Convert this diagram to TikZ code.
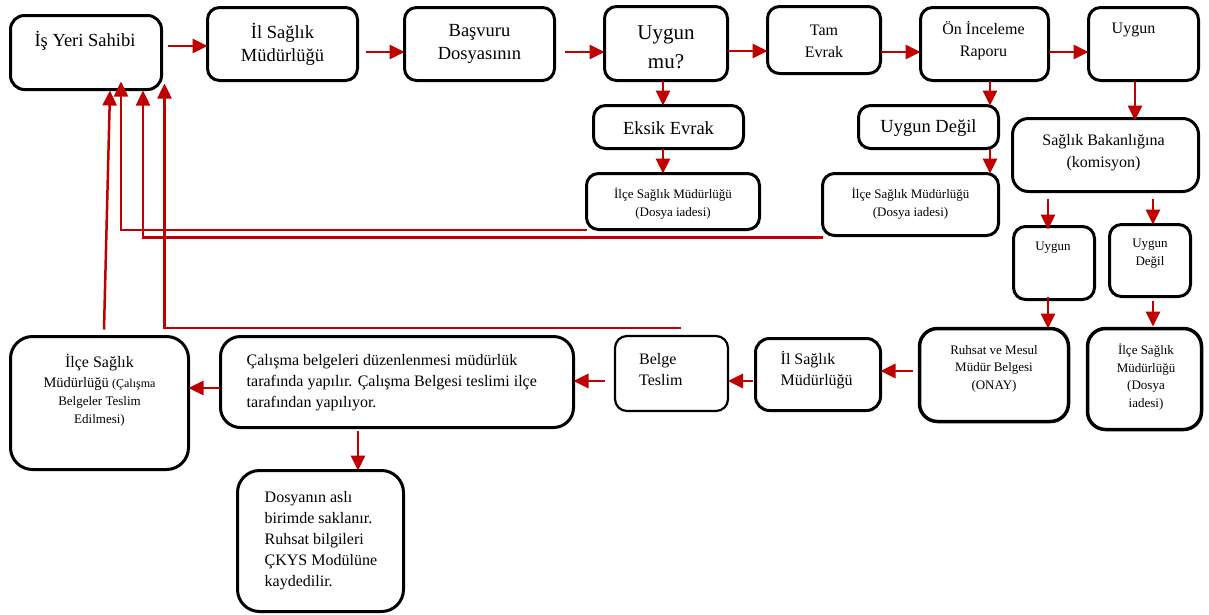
\documentclass[tikz,border=0pt]{standalone}
\usepackage{fontspec}
\setmainfont{Liberation Serif}
\usetikzlibrary{arrows.meta}
\definecolor{flowred}{RGB}{192,0,0}
\begin{document}
\begin{tikzpicture}[x=1pt,y=-1pt,
  box/.style={draw=black, line width=3pt, rounded corners=12pt, inner sep=0pt, outer sep=0pt},
  bigbox/.style={box, rounded corners=22pt},
  lbl/.style={inner sep=0pt, align=center},
  fbig/.style={font=\fontsize{18.5}{23}\selectfont},
  fhuge/.style={font=\fontsize{21}{29}\selectfont},
  fmid/.style={font=\fontsize{16}{22}\selectfont},
  fbody/.style={font=\fontsize{16}{21}\selectfont},
  fsmall/.style={font=\fontsize{13}{17.5}\selectfont},
  flow/.style={draw=flowred, line width=2.8pt, -{Triangle[length=15pt,width=14pt]}},
  back/.style={draw=flowred, line width=2.5pt, -{Triangle[length=15pt,width=14pt]}},
]
\useasboundingbox (0,0) rectangle (1209,614);

% ---- boxes ----
\node[box, rounded corners=14pt, minimum width=151pt, minimum height=74pt] (isy) at (86,52.5) {};
\node[box, minimum width=150pt, minimum height=73pt] (il1) at (282.5,44) {};
\node[box, minimum width=150pt, minimum height=73pt] (bas) at (479.5,44) {};
\node[box, minimum width=123pt, minimum height=74pt] (uyg) at (666,43.5) {};
\node[box, minimum width=113pt, minimum height=67pt] (tam) at (824,40) {};
\node[box, minimum width=128pt, minimum height=73pt] (on) at (984.5,44) {};
\node[box, minimum width=110pt, minimum height=73pt] (uyg2) at (1143.5,44) {};
\node[box, minimum width=150pt, minimum height=43pt] (eksik) at (668.5,127) {};
\node[box, minimum width=140pt, minimum height=43pt] (udeg) at (928.5,127) {};
\node[box, minimum width=173pt, minimum height=56pt] (ilce1) at (673,201.5) {};
\node[box, minimum width=176pt, minimum height=62pt] (ilce2) at (910.5,204.5) {};
\node[box, rounded corners=16pt, minimum width=186pt, minimum height=73pt] (bak) at (1105.5,155) {};
\node[box, minimum width=81pt, minimum height=73pt] (uygA) at (1054,263) {};
\node[box, minimum width=81pt, minimum height=72pt] (uygB) at (1150,260.5) {};
\node[box, rounded corners=18pt, line width=3.5pt, minimum width=149pt, minimum height=93pt] (ruhsat) at (994,375) {};
\node[box, rounded corners=18pt, line width=3.5pt, minimum width=114pt, minimum height=101pt] (ilce3) at (1144.5,379) {};
\node[box, rounded corners=14pt, minimum width=125pt, minimum height=72pt] (il2) at (818,374.5) {};
\node[box, line width=2.2pt, minimum width=113pt, minimum height=75pt] (belge) at (671.5,373.5) {};
\node[box, rounded corners=20pt, minimum width=353pt, minimum height=91pt] (calis) at (397,382) {};
\node[bigbox, minimum width=178pt, minimum height=133pt] (ilce4) at (99.5,403) {};
\node[bigbox, minimum width=166pt, minimum height=141pt] (dos) at (320.5,541) {};

% ---- texts ----
\node[lbl, fbig] (isy-t) at ([shift={(-1,-11.5)}]isy.center) {İş Yeri Sahibi};
\node[lbl, fbig] (il1-t) at (il1.center) {İl Sağlık\\Müdürlüğü};
\node[lbl, fbig] (bas-t) at (bas.center) {Başvuru\\Dosyasının};
\node[lbl, fhuge] (uyg-t) at ([shift={(0,4)}]uyg.center) {Uygun\\mu?};
\node[lbl, fmid] (tam-t) at ([shift={(0,1)}]tam.center) {Tam\\Evrak};
\node[lbl, fmid] (on-t) at ([shift={(-1,-3)}]on.center) {Ön İnceleme\\Raporu};
\node[lbl, fmid] (uyg2-t) at ([shift={(-10,-14)}]uyg2.center) {Uygun};
\node[lbl, fbig] (eksik-t) at ([shift={(0,1)}]eksik.center) {Eksik Evrak};
\node[lbl, fbig] (udeg-t) at ([shift={(0,1)}]udeg.center) {Uygun Değil};
\node[lbl, fsmall] (ilce1-t) at ([shift={(0,2)}]ilce1.center) {İlçe Sağlık Müdürlüğü\\(Dosya iadesi)};
\node[lbl, fsmall] (ilce2-t) at ([shift={(0,-1)}]ilce2.center) {İlçe Sağlık Müdürlüğü\\(Dosya iadesi)};
\node[lbl, fmid] (bak-t) at ([shift={(-2,-2)}]bak.center) {Sağlık Bakanlığına\\(komisyon)};
\node[lbl, fsmall] (uygA-t) at ([shift={(-1,-15)}]uygA.center) {Uygun};
\node[lbl, fsmall] (uygB-t) at ([shift={(0,-7)}]uygB.center) {Uygun\\Değil};
\node[lbl, fsmall] (ruhsat-t) at ([shift={(0,-6.5)}]ruhsat.center) {Ruhsat ve Mesul\\Müdür Belgesi\\(ONAY)};
\node[lbl, fsmall] (ilce3-t) at ([shift={(1.5,-2)}]ilce3.center) {İlçe Sağlık\\Müdürlüğü\\(Dosya\\iadesi)};
\node[lbl, fbody, anchor=west, align=left] (il2-t) at ([shift={(25,-4)}]il2.west) {İl Sağlık\\Müdürlüğü};
\node[lbl, fbody, anchor=west, align=left] (belge-t) at ([shift={(24,-4)}]belge.west) {Belge\\Teslim};
\node[lbl, fbody, anchor=west, align=left] (calis-t) at ([shift={(26,1)}]calis.west)
  {Çalışma belgeleri düzenlenmesi müdürlük\\tarafında yapılır. Çalışma Belgesi teslimi ilçe\\tarafından yapılıyor.};
\node[lbl, font=\fontsize{13}{18}\selectfont] (ilce4-t) at ([shift={(0,-13)}]ilce4.center)
  {{\fontsize{16}{20}\selectfont İlçe Sağlık}\\[2pt]{\fontsize{14.5}{18}\selectfont Müdürlüğü} {\fontsize{12}{16}\selectfont(Çalışma}\\Belgeler Teslim\\Edilmesi)};
\node[lbl, fbody, anchor=west, align=left] (dos-t) at ([shift={(27,0)}]dos.west)
  {Dosyanın aslı\\birimde saklanır.\\Ruhsat bilgileri\\ÇKYS Modülüne\\kaydedilir.};

% ---- main flow, top row ----
\draw[flow] ([xshift=6pt,yshift=6.5pt]isy.east) -- ([yshift=-2pt]il1.west);
\draw[flow] ([xshift=8pt,yshift=-8pt]il1.east) -- ([yshift=-8pt]bas.west);
\draw[flow] ([xshift=10pt,yshift=-8pt]bas.east) -- ([yshift=-8.5pt]uyg.west);
\draw[flow] ([yshift=-7.5pt]uyg.east) -- ([yshift=-11pt]tam.west);
\draw[flow] ([yshift=-12pt]tam.east) -- ([yshift=-8pt]on.west);
\draw[flow] ([yshift=-8pt]on.east) -- ([yshift=-8pt]uyg2.west);

% ---- downward branches ----
\draw[flow] ([xshift=-3pt]uyg.south) -- ([xshift=-5.5pt]eksik.north);
\draw[flow] ([xshift=-5.5pt]eksik.south) -- ([xshift=-10pt]ilce1.north);
\draw[flow] ([xshift=5.5pt]on.south) -- ([xshift=61.5pt]udeg.north);
\draw[flow] ([xshift=61.5pt]udeg.south) -- ([xshift=79.5pt]ilce2.north);
\draw[flow] ([xshift=-8.5pt,yshift=-1pt]uyg2.south) -- ([xshift=29.5pt,yshift=-2pt]bak.north);
\draw[flow] ([xshift=-57.5pt,yshift=-7pt]bak.south) -- ([xshift=-6pt,yshift=-3pt]uygA.north);
\draw[flow] ([xshift=47.5pt,yshift=-7pt]bak.south) -- ([xshift=3pt]uygB.north);
\draw[flow] ([xshift=-6pt,yshift=3pt]uygA.south) -- ([xshift=54pt]ruhsat.north);
\draw[flow] ([xshift=3pt,yshift=-4pt]uygB.south) -- ([xshift=8.5pt,yshift=2pt]ilce3.north);

% ---- bottom row, right to left ----
\draw[flow] ([xshift=-7pt,yshift=4pt]ruhsat.west) -- ([yshift=3.5pt]il2.east);
\draw[flow] ([xshift=-3pt,yshift=-6.5pt]il2.west) -- ([yshift=-7.5pt]belge.east);
\draw[flow] ([xshift=-10pt,yshift=-7.5pt]belge.west) -- ([yshift=1pt]calis.east);
\draw[flow] ([xshift=-1pt,yshift=-6pt]calis.west) -- ([yshift=15pt]ilce4.east);
\draw[flow] ([xshift=-39pt,yshift=-3pt]calis.south) -- ([xshift=37.5pt]dos.north);

% ---- returns to the applicant ----
\coordinate (ret4) at (681,328);
\draw[back] ([xshift=4.5pt,yshift=7pt]ilce4.north) -- ([xshift=24pt,yshift=-1pt]isy.south);
\draw[back] ([yshift=-28.5pt]ilce1.west) -| ([xshift=35pt,yshift=8pt]isy.south);
\draw[back] ([yshift=-33pt]ilce2.west) -| ([xshift=57pt,yshift=-1pt]isy.south);
\draw[back] (ret4) -| ([xshift=78.5pt,yshift=6pt]isy.south);
\end{tikzpicture}
\end{document}
